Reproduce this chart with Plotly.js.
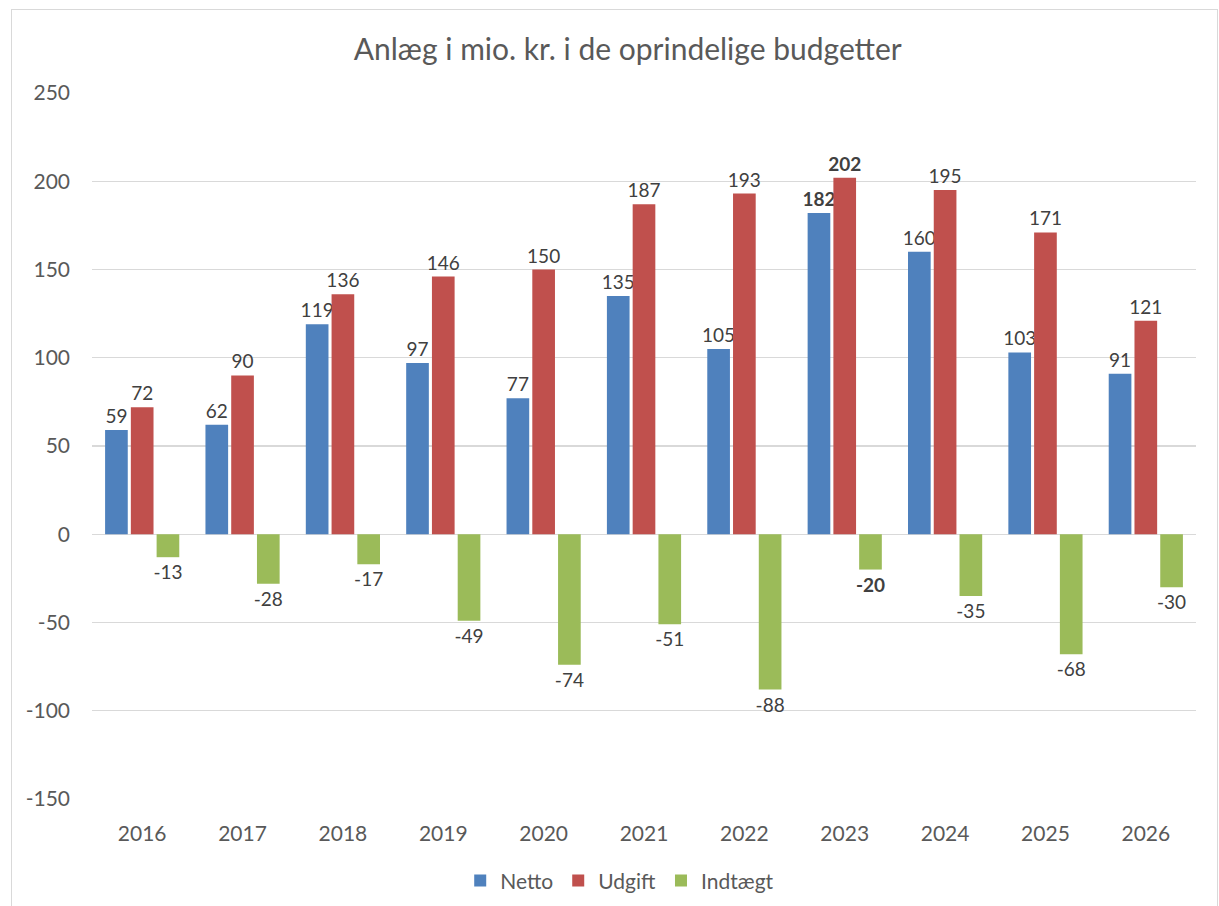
<!DOCTYPE html>
<html><head><meta charset="utf-8">
<script src="https://cdn.plot.ly/plotly-3.0.1.min.js"></script>
<style>
html,body{margin:0;padding:0;background:#fff;}
#wrap{position:relative;width:1219px;height:906px;}
#chart{width:1219px;height:906px;}
#frame{position:absolute;left:11px;top:9px;width:1205px;height:905px;border:1px solid #d9d9d9;pointer-events:none;}
</style>
</head><body>
<div id="wrap"><div id="chart"></div><div id="frame"></div></div>
<script>
const years = ['2016','2017','2018','2019','2020','2021','2022','2023','2024','2025','2026'];
const netto = [59, 62, 119, 97, 77, 135, 105, 182, 160, 103, 91];
const udgift = [72, 90, 136, 146, 150, 187, 193, 202, 195, 171, 121];
const indtaegt = [-13, -28, -17, -49, -74, -51, -88, -20, -35, -68, -30];
const yTicks = [-150, -100, -50, 0, 50, 100, 150, 200, 250];
const boldYear = '2023';

function labels(vals){
  return vals.map((v,i)=> years[i]===boldYear ? '<b>'+v+'</b>' : String(v));
}
const font = 'Lato, "Open Sans", sans-serif';
function series(name, vals, color){
  return {type:'bar', name:name, x:years, y:vals, marker:{color:color},
    text:labels(vals), textposition:'outside', constraintext:'none', cliponaxis:false,
    textfont:{family:font, size:19, color:'#404040'}, hoverinfo:'x+y'};
}
const data = [
  series('Netto', netto, '#4F81BD'),
  series('Udgift', udgift, '#C0504D'),
  series('Indtægt', indtaegt, '#9BBB59')
];
const layout = {
  width:1219, height:906,
  margin:{l:92, r:23, t:93, b:107, autoexpand:false},
  paper_bgcolor:'#fff', plot_bgcolor:'#fff',
  font:{family:font, color:'#595959', size:21},
  title:{text:'Anlæg i mio. kr. i de oprindelige budgetter', font:{family:font, size:30, color:'#595959'}, x:0.515, xanchor:'center', y:0.945, yanchor:'middle'},
  barmode:'group', bargap:0.23, bargroupgap:0.12,
  xaxis:{type:'category', showgrid:false, showline:false, ticks:'', ticklabelstandoff:20, tickfont:{size:21, color:'#595959'}},
  yaxis:{range:[-150,250], tickvals:yTicks, ticktext:yTicks.map(v=>String(v)), showgrid:true, gridcolor:'#d9d9d9', gridwidth:1.3, zeroline:true, zerolinecolor:'#d9d9d9', zerolinewidth:1.3, showline:false, ticks:'', ticklabelstandoff:21, tickfont:{size:21, color:'#595959'}},
  showlegend:true,
  legend:{orientation:'h', x:0.478, xanchor:'center', y:-0.116, yanchor:'middle', font:{size:21, color:'#595959'}, itemwidth:30, traceorder:'normal'}
};
Plotly.newPlot('chart', data, layout, {displayModeBar:false, staticPlot:true});
</script>
</body></html>
